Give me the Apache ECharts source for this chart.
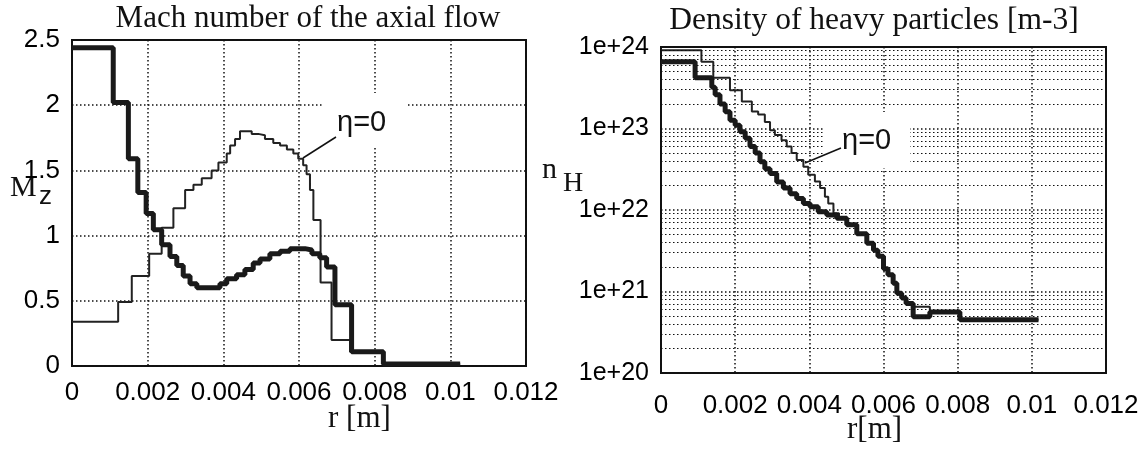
<!DOCTYPE html>
<html lang="en">
<head>
    <meta charset="UTF-8">
    <title>Mach number / density</title>
    <script src="https://cdn.jsdelivr.net/npm/echarts@6/dist/echarts.min.js"></script>
</head>
<body style="margin:0;background:#fff">
<div id="chart" style="width: 1144px; height: 450px"></div>
<script>
    // left panel: Mach number of the axial flow (cell edges in r [m], value per cell)
    var machEdgesThick = [0, 0.00109, 0.00149, 0.00174, 0.00196, 0.00215, 0.00237, 0.00259, 0.00277, 0.00294,
        0.00312, 0.0033, 0.00391, 0.00409, 0.00435, 0.00457, 0.00479, 0.00497, 0.00523, 0.0055,
        0.00576, 0.00616, 0.00634, 0.00655, 0.00673, 0.00695, 0.00739, 0.00823, 0.01026];
    var machThick = [2.44, 2.02, 1.59, 1.33, 1.17, 1.045, 0.93, 0.84, 0.77, 0.69,
        0.63, 0.60, 0.63, 0.67, 0.70, 0.74, 0.79, 0.82, 0.86, 0.88,
        0.90, 0.89, 0.86, 0.83, 0.76, 0.47, 0.11, 0.015];

    var machEdgesEta0 = [0, 0.00122, 0.00158, 0.00204, 0.00237, 0.00268, 0.00299, 0.00321, 0.00343, 0.00369,
        0.00387, 0.00409, 0.00418, 0.00431, 0.00444, 0.00475, 0.00492, 0.0051, 0.00532, 0.0055,
        0.00568, 0.00585, 0.00598, 0.00611, 0.0062, 0.00629, 0.00638, 0.00657, 0.00686, 0.00735,
        0.00823, 0.01026];
    var machEta0 = [0.34, 0.49, 0.69, 0.86, 1.06, 1.21, 1.35, 1.39, 1.44, 1.50,
        1.56, 1.63, 1.69, 1.74, 1.80, 1.78, 1.77, 1.74, 1.71, 1.69,
        1.66, 1.63, 1.59, 1.54, 1.47, 1.35, 1.12, 0.64, 0.20, 0.11,
        0.015];

    // right panel: density of heavy particles [m-3]
    var densEdgesThick = [0, 0.00092, 0.00137, 0.00146, 0.00159, 0.00173, 0.00186, 0.002, 0.00213, 0.00227,
        0.0024, 0.00254, 0.00267, 0.0028, 0.00294, 0.00312, 0.0033, 0.00348, 0.00366, 0.00384,
        0.00402, 0.00424, 0.00447, 0.00474, 0.00501, 0.00528, 0.00555, 0.00573, 0.00585, 0.006,
        0.00612, 0.00626, 0.00636, 0.00649, 0.00661, 0.0068, 0.00725, 0.00806, 0.01018];
    var densThick = [6.6e23, 4.2e23, 3.2e23, 2.6e23, 2.0e23, 1.6e23, 1.26e23, 1.1e23, 9.1e22, 7.6e22,
        6.0e22, 5.0e22, 3.9e22, 3.2e22, 2.8e22, 2.2e22, 1.86e22, 1.58e22, 1.38e22, 1.2e22,
        1.1e22, 9.5e21, 8.7e21, 7.9e21, 6.6e21, 5.1e21, 3.9e21, 3.2e21, 2.7e21, 1.9e21,
        1.6e21, 1.26e21, 9.5e20, 8.3e20, 7.1e20, 4.9e20, 5.6e20, 4.5e20];

    var densEdgesEta0 = [0, 0.00109, 0.00141, 0.00186, 0.00218, 0.00245, 0.00262, 0.0028, 0.00294, 0.00307,
        0.00325, 0.00339, 0.00352, 0.00366, 0.00384, 0.00397, 0.00415, 0.00429, 0.00442, 0.00451,
        0.00465, 0.0048, 0.00501, 0.00528, 0.00555, 0.00573, 0.00585, 0.006, 0.00612, 0.00626,
        0.00636, 0.00649, 0.00661, 0.0068, 0.00725, 0.00806, 0.01018];
    var densEta0 = [9.1e23, 6.6e23, 4.2e23, 2.95e23, 2.14e23, 1.62e23, 1.48e23, 1.2e23, 9.5e22, 8.3e22,
        7.2e22, 6.0e22, 5.0e22, 4.1e22, 3.4e22, 2.7e22, 2.24e22, 1.86e22, 1.45e22, 1.2e22,
        9.1e21, 7.9e21, 6.6e21, 5.1e21, 3.9e21, 3.2e21, 2.7e21, 1.9e21, 1.6e21, 1.26e21,
        9.5e20, 8.3e20, 7.1e20, 6.5e20, 5.6e20, 4.5e20];

    var rTicks = ['0', '0.002', '0.004', '0.006', '0.008', '0.01', '0.012'];
    var decades = [20, 21, 22, 23];

    var SANS = '"Liberation Sans", Arial, sans-serif';
    var SERIF = '"Liberation Serif", "Times New Roman", serif';

    function stepData(edges, vals) {
        return edges.map(function (x, i) {
            return [x, vals[Math.min(i, vals.length - 1)]];
        });
    }

    // minor log grid lines 2..9 for every decade
    var minorLines = [];
    decades.forEach(function (d) {
        for (var k = 2; k <= 9; k++) minorLines.push({yAxis: k * Math.pow(10, d)});
    });

    var dotted = {color: '#111', width: 1.5, type: [1.5, 2.5]};

    function xAxisCfg(idx, margin) {
        return {
            gridIndex: idx, type: 'value', min: 0, max: 0.012, interval: 0.002,
            axisLine: {show: false}, axisTick: {show: false},
            splitLine: {show: true, lineStyle: dotted},
            axisLabel: {
                color: '#000', fontFamily: SANS, fontSize: 26, margin: margin,
                formatter: function (v) { return rTicks[Math.round(v / 0.002)]; }
            }
        };
    }

    var chart = echarts.init(document.getElementById('chart'));
    var option = {
        animation: false,
        backgroundColor: '#fff',
        title: [
            {text: 'Mach number of the axial flow', left: 303, top: -2, textAlign: 'center',
                textStyle: {fontFamily: SERIF, fontWeight: 'normal', fontSize: 31, color: '#111'}},
            {text: 'Density of heavy particles [m-3]', left: 869, top: 0, textAlign: 'center',
                textStyle: {fontFamily: SERIF, fontWeight: 'normal', fontSize: 31.5, color: '#111'}}
        ],
        grid: [
            {left: 72, top: 40, width: 454, height: 326, show: true, borderColor: '#111', borderWidth: 2,
                backgroundColor: 'transparent', outerBoundsMode: 'none'},
            {left: 661, top: 47, width: 445, height: 326, show: true, borderColor: '#111', borderWidth: 2,
                backgroundColor: 'transparent', outerBoundsMode: 'none'}
        ],
        xAxis: [xAxisCfg(0, 14), xAxisCfg(1, 20)],
        yAxis: [
            {gridIndex: 0, type: 'value', min: 0, max: 2.5, interval: 0.5,
                axisLine: {show: false}, axisTick: {show: false},
                splitLine: {show: true, lineStyle: dotted},
                axisLabel: {color: '#000', fontFamily: SANS, fontSize: 26, margin: 12}},
            {gridIndex: 1, type: 'log', logBase: 10, min: 1e20, max: 1e24,
                axisLine: {show: false}, axisTick: {show: false},
                splitLine: {show: true, lineStyle: dotted},
                axisLabel: {color: '#000', fontFamily: SANS, fontSize: 25, margin: 12,
                    formatter: function (v) { return '1e+' + Math.round(Math.log10(v)); }}}
        ],
        series: [
            {type: 'line', xAxisIndex: 0, yAxisIndex: 0, step: 'end', showSymbol: false, z: 3,
                data: stepData(machEdgesEta0, machEta0), lineStyle: {color: '#222', width: 2}},
            {type: 'line', xAxisIndex: 0, yAxisIndex: 0, step: 'end', showSymbol: false, z: 4,
                data: stepData(machEdgesThick, machThick), lineStyle: {color: '#1a1a1a', width: 5}},
            {type: 'line', xAxisIndex: 1, yAxisIndex: 1, step: 'end', showSymbol: false, z: 3,
                data: stepData(densEdgesEta0, densEta0), lineStyle: {color: '#222', width: 2},
                markLine: {silent: true, symbol: 'none', label: {show: false},
                    lineStyle: {color: '#111', width: 1.2, type: [1.5, 2.5]}, data: minorLines}},
            {type: 'line', xAxisIndex: 1, yAxisIndex: 1, step: 'end', showSymbol: false, z: 4,
                data: stepData(densEdgesThick, densThick), lineStyle: {color: '#1a1a1a', width: 5}}
        ],
        graphic: [
            // axis names
            {type: 'text', left: 10, top: 173, style: {text: 'M', font: '30px ' + SERIF, fill: '#111'}},
            {type: 'text', left: 39, top: 184, style: {text: 'z', font: '26px ' + SANS, fill: '#111'}},
            {type: 'text', left: 328, top: 403, style: {text: 'r [m]', font: '31px ' + SERIF, fill: '#111'}},
            {type: 'text', left: 542, top: 155, style: {text: 'n', font: '30px ' + SERIF, fill: '#111'}},
            {type: 'text', left: 563, top: 170, style: {text: 'H', font: '28px ' + SERIF, fill: '#111'}},
            {type: 'text', left: 847, top: 414, style: {text: 'r[m]', font: '31px ' + SERIF, fill: '#111'}},
            // eta = 0 annotations, white box hides the grid behind the text
            {type: 'rect', z: 10, shape: {x: 322, y: 93, width: 85, height: 55}, style: {fill: '#fff'}},
            {type: 'text', z: 11, left: 337, top: 108, style: {text: '\u03b7=0', font: '29px ' + SANS, fill: '#111'}},
            {type: 'line', z: 11, shape: {x1: 303, y1: 158, x2: 336, y2: 137}, style: {stroke: '#111', lineWidth: 1.5}},
            {type: 'rect', z: 10, shape: {x: 825, y: 112, width: 85, height: 56}, style: {fill: '#fff'}},
            {type: 'text', z: 11, left: 842, top: 126, style: {text: '\u03b7=0', font: '29px ' + SANS, fill: '#111'}},
            {type: 'line', z: 11, shape: {x1: 805, y1: 163, x2: 841, y2: 148}, style: {stroke: '#111', lineWidth: 1.5}}
        ]
    };
    chart.setOption(option);
</script>
</body>
</html>
